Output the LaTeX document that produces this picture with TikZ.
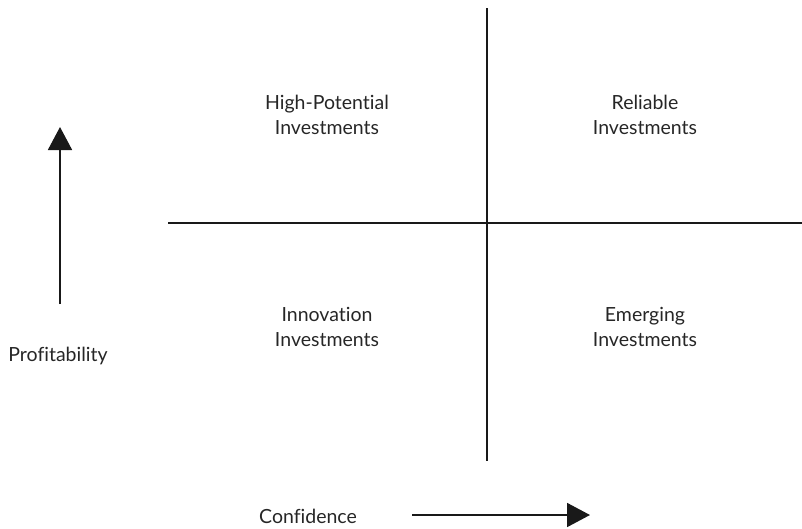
\documentclass[tikz,border=0pt]{standalone}
\usepackage{fontspec}
\setmainfont{Lato}[Ligatures=NoCommon]
\usetikzlibrary{arrows.meta}
\begin{document}
\begin{tikzpicture}[x=1pt,y=-1pt,
  axisline/.style={line width=2pt,black!90},
  quadlabel/.style={font=\fontsize{19.5}{25}\selectfont,text=black!85,align=center,inner sep=0pt},
  axislabel/.style={font=\fontsize{19.5}{24}\selectfont,text=black!85,inner sep=0pt},
  bigarrow/.style={line width=1.8pt,black!90,-{Triangle[length=23pt,width=24pt]}}]
\useasboundingbox (0,0) rectangle (802,528);
% quadrant axes
\coordinate (vtop) at (487,8);
\coordinate (vbot) at (487,461);
\coordinate (hleft) at (168,223);
\coordinate (hright) at (802,223);
\draw[axisline] (vtop) -- (vbot);
\draw[axisline] (hleft) -- (hright);
% quadrant labels
\node[quadlabel] (hp) at (327,115) {High-Potential\\Investments};
\node[quadlabel] (rel) at (645,115) {Reliable\\Investments};
\node[quadlabel] (inn) at (327,327) {Innovation\\Investments};
\node[quadlabel] (emg) at (645,327) {Emerging\\Investments};
% direction arrows
\coordinate (pstart) at (60,304);
\coordinate (pend) at (60,127);
\draw[bigarrow] (pstart) -- (pend);
\node[axislabel] (prof) at (58,356) {Profitability};
\coordinate (cstart) at (412,515);
\coordinate (cend) at (590,515);
\draw[bigarrow] (cstart) -- (cend);
\node[axislabel] (conf) at (308,516) {Confidence};
\end{tikzpicture}
\end{document}
